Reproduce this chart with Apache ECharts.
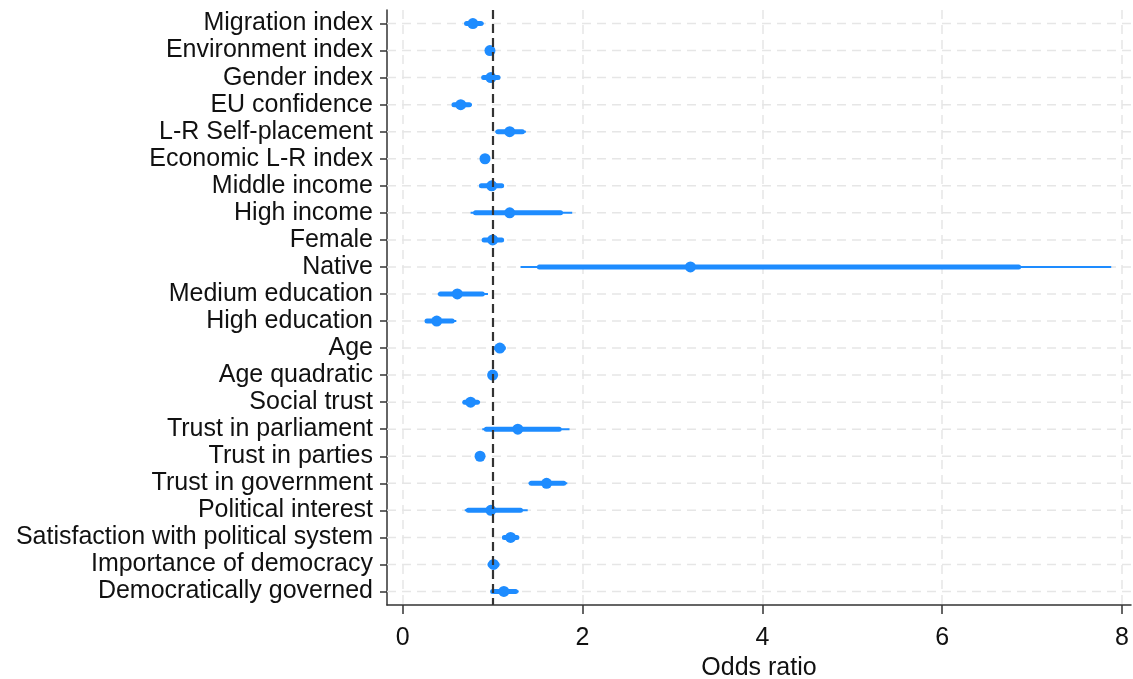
<!DOCTYPE html>
<html>
<head>
<meta charset="utf-8">
<script src="https://cdn.jsdelivr.net/npm/echarts@6/dist/echarts.min.js"></script>
<style>html,body{margin:0;padding:0;background:#fff}#c{width:1133px;height:679px}</style>
</head>
<body>
<div id="c"></div>
<script>
const categories = ['Migration index','Environment index','Gender index','EU confidence','L-R Self-placement','Economic L-R index','Middle income','High income','Female','Native','Medium education','High education','Age','Age quadratic','Social trust','Trust in parliament','Trust in parties','Trust in government','Political interest','Satisfaction with political system','Importance of democracy','Democratically governed'];
const estimate = [0.78,0.97,0.98,0.645,1.19,0.915,0.99,1.19,1.0,3.2,0.607,0.378,1.08,1.0,0.755,1.28,0.86,1.6,0.98,1.2,1.01,1.125];
const lo95 = [0.69,0.95,0.885,0.55,1.03,0.90,0.855,0.755,0.885,1.31,0.39,0.248,1.03,0.99,0.67,0.885,0.84,1.40,0.69,1.12,0.96,0.98];
const hi95 = [0.90,0.99,1.08,0.77,1.37,0.93,1.125,1.885,1.12,7.88,0.948,0.596,1.13,1.005,0.86,1.855,0.88,1.83,1.39,1.28,1.06,1.29];
const lo90 = [0.71,0.955,0.90,0.57,1.06,0.905,0.875,0.81,0.905,1.52,0.42,0.27,1.04,0.992,0.69,0.93,0.845,1.43,0.73,1.13,0.97,1.0];
const hi90 = [0.87,0.985,1.06,0.74,1.33,0.925,1.10,1.755,1.10,6.85,0.885,0.55,1.12,1.003,0.83,1.74,0.875,1.79,1.31,1.27,1.05,1.255];
const xTicks = [0,2,4,6,8];
const refValue = 1;

const blue = '#1e8cff';
const font = 'Liberation Sans, Arial, sans-serif';
const data = categories.map((c,i)=>[i, estimate[i], lo95[i], hi95[i], lo90[i], hi90[i]]);

const chart = echarts.init(document.getElementById('c'), null, {renderer:'canvas'});
chart.setOption({
  animation:false,
  grid:{left:387, top:10, width:744, height:595, containLabel:false, outerBoundsMode:'none'},
  xAxis:{
    type:'value', min:-0.175, max:8.10,
    axisLine:{show:true, onZero:false, lineStyle:{color:'#333', width:1.5}},
    axisTick:{show:true, length:9, customValues:xTicks, lineStyle:{color:'#333', width:1.5}},
    axisLabel:{customValues:xTicks, fontSize:25, fontFamily:font, color:'#111', margin:21},
    splitLine:{show:true, lineStyle:{color:'#e6e6e6', width:1.5, type:[9,6]}},
    name:'Odds ratio', nameLocation:'middle', nameGap:51,
    nameTextStyle:{fontSize:25, fontFamily:font, color:'#111'}
  },
  yAxis:{
    type:'category', data:categories, inverse:true,
    axisLine:{show:true, onZero:false, lineStyle:{color:'#333', width:1.5}},
    axisTick:{show:true, interval:0, alignWithLabel:true, length:7, lineStyle:{color:'#333', width:1.5}},
    axisLabel:{interval:0, fontSize:25, fontFamily:font, color:'#111', margin:14},
    splitLine:{show:false}
  },
  series:[
    {
      type:'custom', z:1, silent:true, data:data, encode:{y:0},
      renderItem:function(params, api){
        const i = api.value(0);
        const cs = params.coordSys;
        const y = api.coord([0, i])[1];
        return {type:'line', shape:{x1:cs.x, y1:y, x2:cs.x+cs.width, y2:y},
          style:{stroke:'#e6e6e6', lineWidth:1.5, lineDash:[9,6]}};
      }
    },
    {
      type:'custom', z:3, data:data,
      encode:{x:[1,2,3,4,5], y:0},
      renderItem:function(params, api){
        const i = api.value(0);
        const p = api.coord([api.value(1), i]);
        const a = api.coord([api.value(2), i]);
        const b = api.coord([api.value(3), i]);
        const c = api.coord([api.value(4), i]);
        const d = api.coord([api.value(5), i]);
        return {type:'group', children:[
          {type:'line', shape:{x1:a[0],y1:a[1],x2:b[0],y2:b[1]}, style:{stroke:blue, lineWidth:2}},
          {type:'line', shape:{x1:c[0],y1:c[1],x2:d[0],y2:d[1]}, style:{stroke:blue, lineWidth:5, lineCap:'round'}},
          {type:'circle', shape:{cx:p[0], cy:p[1], r:5.5}, style:{fill:blue}}
        ]};
      }
    },
    {
      type:'line', data:[], z:5, silent:true,
      markLine:{silent:true, symbol:'none', label:{show:false},
        lineStyle:{color:'#333', width:2.2, type:[9,5]},
        data:[{xAxis:refValue}]}
    }
  ]
});
</script>
</body>
</html>
